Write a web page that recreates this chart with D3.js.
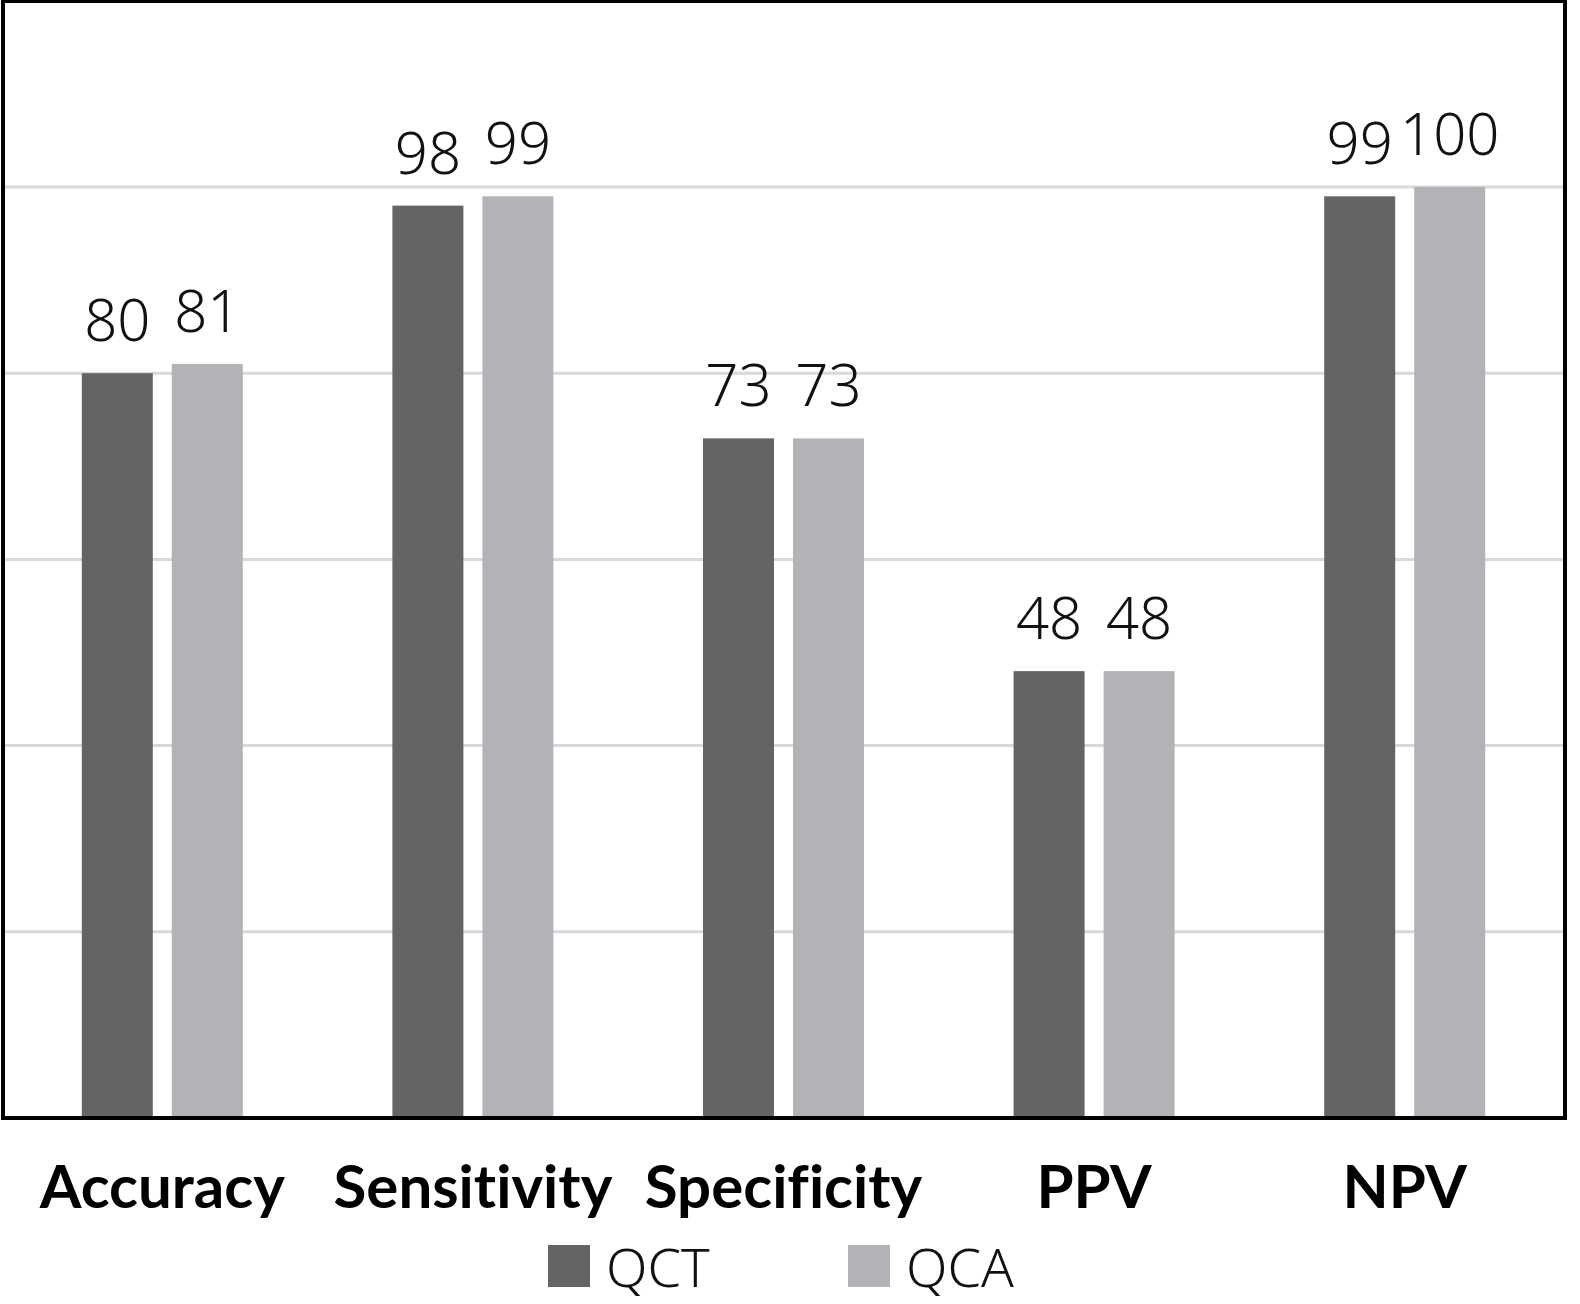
<!DOCTYPE html>
<html>
<head>
<meta charset="utf-8">
<script src="https://cdn.jsdelivr.net/npm/d3@7"></script>
<style>
  body { margin: 0; background: #fff; overflow: hidden; }
  svg { display: block; }
  text { font-variant-ligatures: none; }
</style>
</head>
<body>
<svg width="1580" height="1304"></svg>
<script>
let categories = ['Accuracy', 'Sensitivity', 'Specificity', 'PPV', 'NPV']
let seriesNames = ['QCT', 'QCA']
let qctValues = [80, 98, 73, 48, 99]
let qcaValues = [81, 99, 73, 48, 100]
let gridTicks = [20, 40, 60, 80, 100]
let colors = ['#636466', '#b1b3b6']

let svg = d3.select('svg')

let frameLeft = 3, frameRight = 1565, frameTop = 1, frameBottom = 1118

let x = d3.scaleBand()
    .domain(categories)
    .range([7, 1560])

let inner = d3.scaleBand()
    .domain(seriesNames)
    .range([x.bandwidth() / 2 - 80.5, x.bandwidth() / 2 + 80.5])
    .paddingInner(19 / 90)

let y = d3.scaleLinear()
    .domain([0, 100])
    .range([frameBottom, 187])

// gridlines
svg.selectAll('line.grid')
    .data(gridTicks)
    .enter()
    .append('line')
    .attr('class', 'grid')
    .attr('x1', frameLeft)
    .attr('x2', frameRight)
    .attr('y1', d => y(d))
    .attr('y2', d => y(d))
    .attr('stroke', '#d9d9d9')
    .attr('stroke-width', 3)

let rows = categories.map((c, i) => ({ cat: c, vals: [qctValues[i], qcaValues[i]] }))

let groups = svg.selectAll('g.cat')
    .data(rows)
    .enter()
    .append('g')
    .attr('transform', d => `translate(${x(d.cat)},0)`)

groups.selectAll('rect')
    .data(d => d.vals.map((v, j) => ({ name: seriesNames[j], v: v, j: j })))
    .enter()
    .append('rect')
    .attr('x', d => inner(d.name))
    .attr('width', inner.bandwidth())
    .attr('y', d => y(d.v))
    .attr('height', d => y(0) - y(d.v))
    .attr('fill', d => colors[d.j])

groups.selectAll('text.val')
    .data(d => d.vals.map((v, j) => ({ name: seriesNames[j], v: v })))
    .enter()
    .append('text')
    .attr('class', 'val')
    .attr('x', d => inner(d.name) + inner.bandwidth() / 2)
    .attr('y', d => y(d.v) - 32)
    .attr('text-anchor', 'middle')
    .attr('font-family', 'Noto Sans')
    .attr('font-weight', 300)
    .attr('font-size', 58)
    .attr('fill', '#111')
    .text(d => d.v)

// frame
svg.append('rect')
    .attr('x', frameLeft)
    .attr('y', frameTop)
    .attr('width', frameRight - frameLeft)
    .attr('height', frameBottom - frameTop)
    .attr('fill', 'none')
    .attr('stroke', '#000')
    .attr('stroke-width', 4)

// category labels
svg.selectAll('text.cat')
    .data(categories)
    .enter()
    .append('text')
    .attr('class', 'cat')
    .attr('x', d => x(d) + x.bandwidth() / 2)
    .attr('y', 1208)
    .attr('text-anchor', 'middle')
    .attr('font-family', 'Lato')
    .attr('font-weight', 'bold')
    .attr('font-size', 60)
    .attr('fill', '#000')
    .text(d => d)

// legend
let legend = svg.selectAll('g.legend')
    .data(seriesNames)
    .enter()
    .append('g')
    .attr('transform', (d, i) => `translate(${548 + i * 300},1245)`)

legend.append('rect')
    .attr('width', 42)
    .attr('height', 42)
    .attr('fill', (d, i) => colors[i])

legend.append('text')
    .attr('x', 58)
    .attr('y', 42)
    .attr('font-family', 'Noto Sans')
    .attr('font-weight', 300)
    .attr('font-size', 54)
    .attr('fill', '#111')
    .text(d => d)
</script>
</body>
</html>
